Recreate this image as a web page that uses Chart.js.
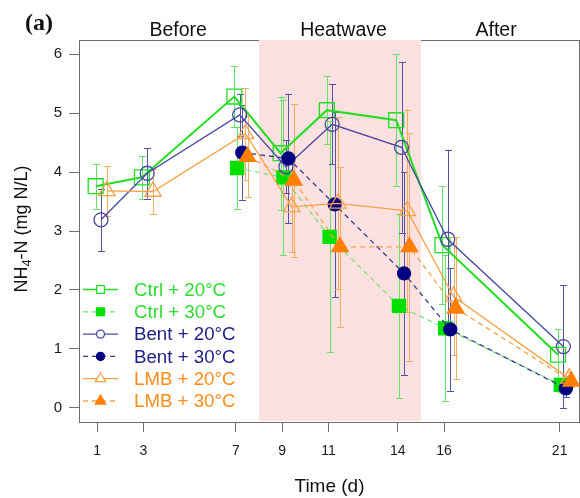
<!DOCTYPE html>
<html>
<head>
<meta charset="utf-8">
<script src="https://cdn.jsdelivr.net/npm/chart.js@4.4.1/dist/chart.umd.min.js"></script>
<style>
    html, body { margin: 0; padding: 0; background: #fff; }
    #wrap { width: 580px; height: 498px; }
</style>
</head>
<body>
<div id="wrap"><canvas id="nh4-chart" width="580" height="498"></canvas></div>
<script>
// sampling days and axis ticks
var DAYS = [1, 3, 7, 9, 11, 14, 16, 21];
var Y_TICKS = [0, 1, 2, 3, 4, 5, 6];
var SECTIONS = ['Before', 'Heatwave', 'After'];
var HEATWAVE = [8, 15];

// NH4-N (mg N/L), mean and error per day (null = not sampled)
var CTRL_20    = [3.76, 3.91, 5.28, 4.32, 5.05, 4.88, 2.76, 0.90];
var CTRL_20_SE = [0.38, 0.36, 0.52, 0.96, 0.58, 1.12, 1.00, 0.43];
var CTRL_30    = [null, null, 4.07, 3.91, 2.90, 1.73, 1.35, 0.39];
var CTRL_30_SE = [null, null, 0.70, 1.32, 1.96, 1.56, 1.24, 0.12];
var BENT_20    = [3.19, 3.98, 4.97, 4.09, 4.81, 4.42, 2.86, 1.04];
var BENT_20_SE = [0.53, 0.43, 0.35, 0.45, 0.68, 1.45, 1.52, 1.04];
var BENT_30    = [null, null, 4.33, 4.23, 3.45, 2.28, 1.33, 0.33];
var BENT_30_SE = [null, null, 0.80, 1.10, 1.57, 1.72, 1.04, 0.15];
var LMB_20     = [3.68, 3.67, 4.65, 3.41, 3.47, 3.34, 1.89, 0.50];
var LMB_20_SE  = [0.42, 0.38, 0.78, 0.77, 1.46, 1.72, 1.00, 0.10];
var LMB_30     = [null, null, 4.26, 3.86, 2.73, 2.73, 1.69, 0.45];
var LMB_30_SE  = [null, null, 0.69, 1.30, 1.35, 1.93, 1.20, 0.10];

(function(){
    var FONT = '"Liberation Sans", Arial, sans-serif';
    var GREY = '#6e6e6e';

    /**
     * Horizontal dodge (days) so the series don't sit on top of each other.
     */
    var DODGE = { ctrl20: -0.07, ctrl30: 0.05, bent20: 0.16, bent30: 0.27, lmb20: 0.41, lmb30: 0.5 };

    /** Section label centres in days. */
    var SECTION_AT = [4.5, 11.65, 18.25];

    function points(values, dodge){
        var out = [];
        values.forEach(function(v, i){
            if (v !== null) out.push({ x: DAYS[i] + dodge, y: v });
        });
        return out;
    }

    function errors(se){
        return se.filter(function(v){ return v !== null; });
    }

    function series(label, values, se, dodge, opts){
        return {
            label: label,
            data: points(values, dodge),
            se: errors(se),
            borderColor: opts.line,
            borderWidth: opts.width,
            borderDash: opts.dash || [],
            pointStyle: opts.shape,
            pointRadius: opts.radius,
            pointBorderWidth: 1.3,
            pointBorderColor: opts.open ? opts.line : opts.fill,
            pointBackgroundColor: opts.open ? 'rgba(0,0,0,0)' : opts.fill,
            errColor: opts.err,
            textColor: opts.text,
            legendRadius: opts.legendRadius,
            open: opts.open,
            fill: false,
            tension: 0,
            order: opts.order
        };
    }

    var datasets = [
        series('Ctrl + 20°C', CTRL_20, CTRL_20_SE, DODGE.ctrl20,
            { line: '#22dd22', width: 2, shape: 'rect', radius: 10.5, open: true,
              err: '#66e066', text: '#2edc2e', legendRadius: 5.5, order: 5 }),
        series('Ctrl + 30°C', CTRL_30, CTRL_30_SE, DODGE.ctrl30,
            { line: '#72e072', width: 1.2, dash: [5, 4], shape: 'rect', radius: 9.3, fill: '#00e000',
              err: '#66e066', text: '#2edc2e', legendRadius: 5.5, order: 4 }),
        series('Bent + 20°C', BENT_20, BENT_20_SE, DODGE.bent20,
            { line: '#4848a4', width: 1.3, shape: 'circle', radius: 7, open: true,
              err: '#5252a6', text: '#1e1e88', legendRadius: 4, order: 3 }),
        series('Bent + 30°C', BENT_30, BENT_30_SE, DODGE.bent30,
            { line: '#3a3a92', width: 1.3, dash: [5, 4], shape: 'circle', radius: 6.5, fill: '#000080',
              err: '#5252a6', text: '#1e1e88', legendRadius: 4, order: 2 }),
        series('LMB + 20°C', LMB_20, LMB_20_SE, DODGE.lmb20,
            { line: '#f6a248', width: 1.3, shape: 'triangle', radius: 9.5, open: true,
              err: '#f5ac60', text: '#ff8c1a', legendRadius: 6, order: 1 }),
        series('LMB + 30°C', LMB_30, LMB_30_SE, DODGE.lmb30,
            { line: '#f6a248', width: 1.3, dash: [5, 4], shape: 'triangle', radius: 9.5, fill: '#ff8000',
              err: '#f5ac60', text: '#ff8c1a', legendRadius: 6, order: 0 })
    ];

    /**
     * Heatwave shading, box and error bars (under the series),
     * texts and legend (on top).
     */
    var decor = {
        id: 'decor',
        beforeDatasetsDraw: function(chart){
            var ctx = chart.ctx, a = chart.chartArea;
            var xs = chart.scales.x, ys = chart.scales.y;
            var h0 = xs.getPixelForValue(HEATWAVE[0]), h1 = xs.getPixelForValue(HEATWAVE[1]);
            ctx.save();
            ctx.strokeStyle = GREY;
            ctx.lineWidth = 1;
            ctx.beginPath();
            ctx.moveTo(a.left, a.top + 0.5); ctx.lineTo(a.right, a.top + 0.5);
            ctx.moveTo(a.right - 0.5, a.top); ctx.lineTo(a.right - 0.5, a.bottom);
            ctx.stroke();
            ctx.fillStyle = '#fde1e1';
            ctx.fillRect(h0, a.top, h1 - h0, a.bottom - a.top - 1);

            chart.data.datasets.forEach(function(ds){
                ctx.strokeStyle = ds.errColor;
                ctx.lineWidth = 1;
                ctx.beginPath();
                ds.data.forEach(function(p, j){
                    var px = Math.round(xs.getPixelForValue(p.x)) + 0.5;
                    var top = ys.getPixelForValue(p.y + ds.se[j]);
                    var bot = ys.getPixelForValue(p.y - ds.se[j]);
                    ctx.moveTo(px, top); ctx.lineTo(px, bot);
                    ctx.moveTo(px - 3.5, Math.round(top) + 0.5); ctx.lineTo(px + 3.5, Math.round(top) + 0.5);
                    ctx.moveTo(px - 3.5, Math.round(bot) + 0.5); ctx.lineTo(px + 3.5, Math.round(bot) + 0.5);
                });
                ctx.stroke();
            });
            ctx.restore();
        },
        afterDraw: function(chart){
            var ctx = chart.ctx, a = chart.chartArea, xs = chart.scales.x;
            ctx.save();

            // panel letter
            ctx.fillStyle = '#111';
            ctx.font = 'bold 24px "Liberation Serif", "Times New Roman", serif';
            ctx.textAlign = 'left';
            ctx.textBaseline = 'alphabetic';
            ctx.fillText('(a)', 25, 30);

            // period labels
            ctx.font = '19.5px ' + FONT;
            ctx.textAlign = 'center';
            SECTIONS.forEach(function(s, i){
                ctx.fillText(s, xs.getPixelForValue(SECTION_AT[i]), 36);
            });

            // x title
            ctx.font = '19px ' + FONT;
            ctx.fillText('Time (d)', (a.left + a.right) / 2, 492);

            // y title with subscript
            ctx.save();
            ctx.translate(20, (a.top + a.bottom) / 2 - 2);
            ctx.rotate(-Math.PI / 2);
            var big = '18px ' + FONT, small = '13px ' + FONT;
            ctx.font = big; var w1 = ctx.measureText('NH').width;
            ctx.font = small; var w2 = ctx.measureText('4').width;
            ctx.font = big; var w3 = ctx.measureText('-N (mg N/L)').width;
            var sx = -(w1 + w2 + w3) / 2;
            ctx.textAlign = 'left';
            ctx.fillText('NH', sx, 6.5);
            ctx.font = small; ctx.fillText('4', sx + w1, 10.5);
            ctx.font = big; ctx.fillText('-N (mg N/L)', sx + w1 + w2, 6.5);
            ctx.restore();

            // legend
            var rowY = 289.5, step = 22.3;
            chart.data.datasets.forEach(function(ds, i){
                var y = rowY + i * step;
                ctx.strokeStyle = ds.borderColor;
                ctx.lineWidth = ds.borderWidth > 1.5 ? 1.6 : 1.3;
                ctx.setLineDash(ds.borderDash);
                ctx.beginPath();
                ctx.moveTo(83, y); ctx.lineTo(118, y);
                ctx.stroke();
                ctx.setLineDash([]);
                ctx.fillStyle = ds.open ? '#ffffff' : ds.pointBackgroundColor;
                ctx.strokeStyle = ds.pointBorderColor;
                ctx.lineWidth = 1.3;
                Chart.helpers.drawPoint(ctx, {
                    pointStyle: ds.pointStyle, radius: ds.legendRadius, rotation: 0, borderWidth: 1.3
                }, 100.5, y);
                ctx.fillStyle = ds.textColor;
                ctx.font = '18.7px ' + FONT;
                ctx.textAlign = 'left';
                ctx.textBaseline = 'middle';
                ctx.fillText(ds.label, 134, y + 1);
            });
            ctx.restore();
        }
    };

    var ctx = document.getElementById('nh4-chart').getContext('2d');
    new Chart(ctx, {
        type: 'line',
        data: { datasets: datasets },
        options: {
            responsive: false,
            animation: false,
            layout: { autoPadding: false, padding: { top: 40, left: 0, right: 0, bottom: 0 } },
            plugins: { legend: { display: false }, tooltip: { enabled: false } },
            scales: {
                x: {
                    type: 'linear',
                    min: 0.21,
                    max: 21.88,
                    afterBuildTicks: function(s){ s.ticks = DAYS.map(function(d){ return { value: d }; }); },
                    afterFit: function(s){ s.height = 76; s.paddingLeft = 0; s.paddingRight = 0; },
                    grid: { drawOnChartArea: false, drawTicks: true, tickLength: 10, color: GREY },
                    border: { display: true, color: GREY, width: 1 },
                    ticks: { padding: 11, color: '#1a1a1a', font: { family: FONT, size: 14 }, maxRotation: 0, autoSkip: false }
                },
                y: {
                    min: -0.24,
                    max: 6.24,
                    afterBuildTicks: function(s){ s.ticks = Y_TICKS.map(function(v){ return { value: v }; }); },
                    afterFit: function(s){ s.width = 79; s.paddingTop = 0; s.paddingBottom = 0; },
                    grid: { drawOnChartArea: false, drawTicks: true, tickLength: 10, color: GREY },
                    border: { display: true, color: GREY, width: 1 },
                    ticks: { padding: 7, color: '#1a1a1a', font: { family: FONT, size: 15 } }
                }
            }
        },
        plugins: [decor]
    });
})();
</script>
</body>
</html>
